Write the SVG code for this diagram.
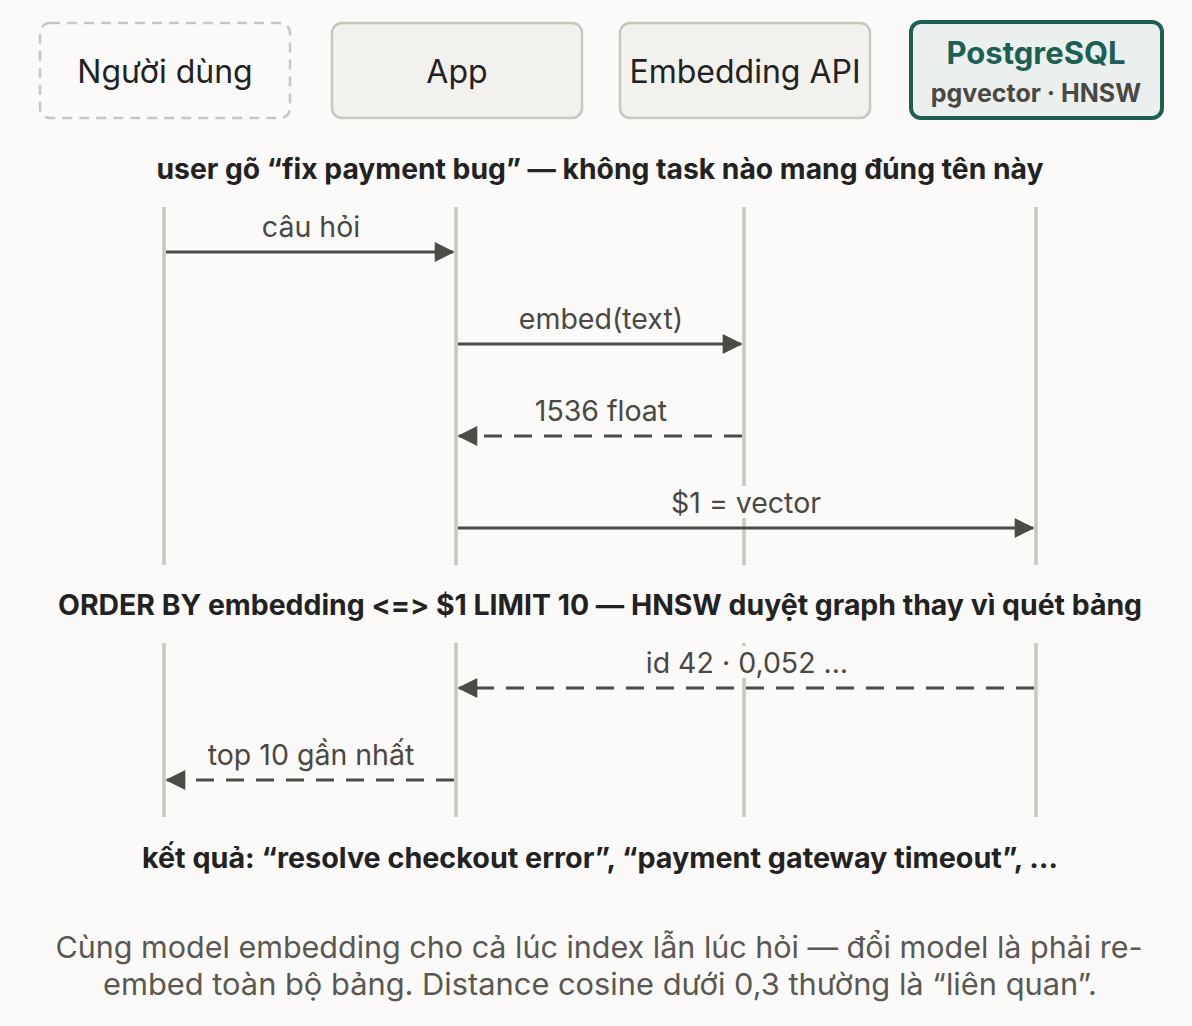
<svg xmlns="http://www.w3.org/2000/svg" width="1192" height="1026" viewBox="0 0 1192 1026">
<defs>
<style>
text{font-feature-settings:"calt" 0,"liga" 0;font-variant-ligatures:none}
.t{font-family:Inter,"Noto Sans",sans-serif;fill:#222}
.lbl{font-family:Inter,"Noto Sans",sans-serif;font-size:28.5px;fill:#4a4843;text-anchor:middle}
.life{stroke:#c9c6bd;stroke-width:3.5}
.msg{stroke:#4d4b46;stroke-width:3;fill:none}
.dash{stroke-dasharray:18 12}
.bg{fill:#fbfaf8}
</style>
<marker id="ah" viewBox="0 0 12 12" refX="11" refY="6" markerWidth="22" markerHeight="20" orient="auto-start-reverse" markerUnits="userSpaceOnUse">
<path d="M0,0L12,6L0,12z" fill="#4d4b46"/>
</marker>
</defs>
<rect width="1192" height="1026" fill="#fbfaf8"/>
<g id="lifelines">
<line class="life" x1="164" y1="207" x2="164" y2="565"/><line class="life" x1="456" y1="207" x2="456" y2="565"/><line class="life" x1="744" y1="207" x2="744" y2="565"/><line class="life" x1="1036" y1="207" x2="1036" y2="565"/>
<line class="life" x1="164" y1="643" x2="164" y2="817"/><line class="life" x1="456" y1="643" x2="456" y2="817"/><line class="life" x1="744" y1="643" x2="744" y2="817"/><line class="life" x1="1036" y1="643" x2="1036" y2="817"/>
</g>
<g id="n-user"><rect x="40" y="23" width="250" height="95" rx="10" fill="none" stroke="#c9c6bd" stroke-width="2.5" stroke-dasharray="10 7"/><text class="t" x="165" y="83" font-size="32" text-anchor="middle">Người dùng</text></g>
<g id="n-app"><rect x="332" y="23" width="250" height="95" rx="10" fill="#f2f1ed" stroke="#c9c6bd" stroke-width="2.5"/><text class="t" x="457" y="83" font-size="32" text-anchor="middle">App</text></g>
<g id="n-embed"><rect x="620" y="23" width="250" height="95" rx="10" fill="#f2f1ed" stroke="#c9c6bd" stroke-width="2.5"/><text class="t" x="745" y="83" font-size="32" text-anchor="middle">Embedding API</text></g>
<g id="n-pg"><rect x="911" y="22" width="251" height="96" rx="10" fill="#ebf0ee" stroke="#1c5f55" stroke-width="4"/><text class="t" x="1036" y="64" font-size="31" font-weight="700" text-anchor="middle" style="fill:#1c5f55">PostgreSQL</text><text class="t" x="1036" y="102" font-size="25" font-weight="700" text-anchor="middle" style="fill:#4a4843">pgvector · HNSW</text></g>
<g id="notes" class="t" font-weight="700" font-size="28" text-anchor="middle">
<text x="600" y="179" textLength="887" lengthAdjust="spacingAndGlyphs">user gõ “fix payment bug” — không task nào mang đúng tên này</text>
<text x="600" y="615" textLength="1084" lengthAdjust="spacingAndGlyphs">ORDER BY embedding &lt;=&gt; $1 LIMIT 10 — HNSW duyệt graph thay vì quét bảng</text>
<text x="600" y="868" textLength="916" lengthAdjust="spacingAndGlyphs">kết quả: “resolve checkout error”, “payment gateway timeout”, …</text>
</g>
<g id="connectors">
<line class="msg" x1="166" y1="252" x2="453" y2="252" marker-end="url(#ah)"/>
<line class="msg" x1="458" y1="344" x2="741" y2="344" marker-end="url(#ah)"/>
<line class="msg dash" x1="742" y1="436" x2="459" y2="436" marker-end="url(#ah)"/>
<line class="msg" x1="458" y1="528" x2="1033" y2="528" marker-end="url(#ah)"/>
<line class="msg dash" x1="1034" y1="688" x2="459" y2="688" marker-end="url(#ah)"/>
<line class="msg dash" x1="454" y1="780" x2="167" y2="780" marker-end="url(#ah)"/>
<rect class="bg" x="660" y="486" width="170" height="32"/>
<rect class="bg" x="636" y="646" width="220" height="32"/>
<text class="lbl" x="311" y="237">câu hỏi</text>
<text class="lbl" x="601" y="329">embed(text)</text>
<text class="lbl" x="601" y="421">1536 float</text>
<text class="lbl" x="746" y="513">$1 = vector</text>
<text class="lbl" x="747" y="673">id 42 · 0,052 …</text>
<text class="lbl" x="311" y="765">top 10 gần nhất</text>
</g>
<g id="caption" font-family="Inter,'Noto Sans',sans-serif" font-size="30" fill="#5a5852" text-anchor="middle">
<text x="599" y="958" textLength="1087" lengthAdjust="spacingAndGlyphs">Cùng model embedding cho cả lúc index lẫn lúc hỏi — đổi model là phải re-</text>
<text x="600" y="995" textLength="994" lengthAdjust="spacingAndGlyphs">embed toàn bộ bảng. Distance cosine dưới 0,3 thường là “liên quan”.</text>
</g>
</svg>
